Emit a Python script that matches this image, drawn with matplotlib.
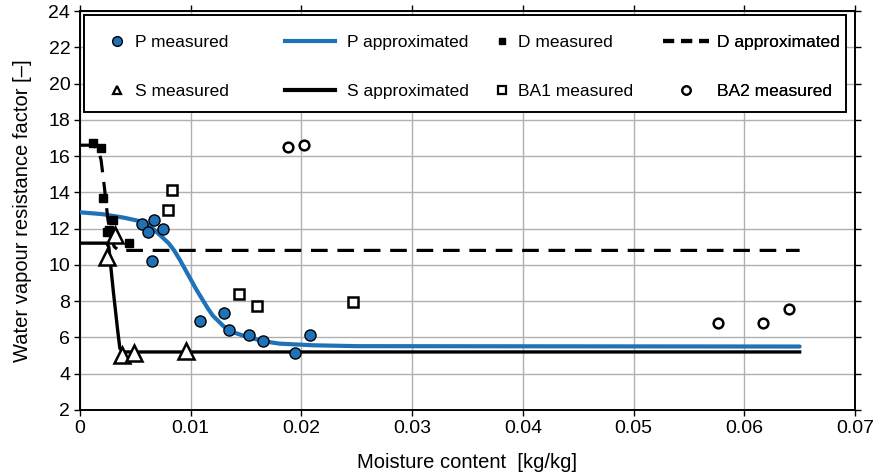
import numpy as np
import matplotlib
matplotlib.use("Agg")
import matplotlib.pyplot as plt
from matplotlib.lines import Line2D
from matplotlib.patches import Rectangle

plt.rcParams['font.family'] = ['Liberation Sans', 'DejaVu Sans']
plt.rcParams['lines.scale_dashes'] = False

BLUE = "#1f72b8"

# measured points [kg/kg], [-]
p_x = [0.00557, 0.00668, 0.00617, 0.00752, 0.00648, 0.01084, 0.01303, 0.01349, 0.01526, 0.01653, 0.01945, 0.02075]
p_y = [12.24, 12.48, 11.83, 11.97, 10.23, 6.93, 7.33, 6.41, 6.16, 5.82, 5.15, 6.16]

d_x = [0.0012, 0.0019, 0.0021, 0.0030, 0.0026, 0.0024, 0.0044]
d_y = [16.70, 16.45, 13.70, 12.50, 11.95, 11.80, 11.20]

s_x = [0.00241, 0.00316, 0.00377, 0.0049, 0.00957]
s_y = [10.46, 11.65, 5.04, 5.16, 5.26]

ba1_x = [0.00798, 0.00834, 0.0144, 0.0160, 0.0247]
ba1_y = [13.03, 14.13, 8.40, 7.74, 7.97]

ba2_x = [0.0188, 0.0202, 0.05765, 0.06166, 0.0640]
ba2_y = [16.50, 16.60, 6.78, 6.78, 7.59]

# approximation curves
pa_x = [0, 0.002, 0.004, 0.0055, 0.0065, 0.0073, 0.0080, 0.0085, 0.009, 0.0095, 0.010, 0.0105,
        0.011, 0.0115, 0.012, 0.0125, 0.013, 0.0135, 0.014, 0.015, 0.0165, 0.018, 0.021, 0.025, 0.065]
pa_y = [12.9, 12.8, 12.6, 12.4, 12.05, 11.6, 11.2, 10.8, 10.3, 9.75, 9.2, 8.65,
        8.15, 7.65, 7.2, 6.9, 6.6, 6.4, 6.25, 6.05, 5.8, 5.66, 5.57, 5.52, 5.5]

da_x = [0, 0.0012, 0.0016, 0.0019, 0.0022, 0.0025, 0.0028, 0.0031, 0.0035, 0.065]
da_y = [16.6, 16.6, 16.4, 15.8, 14.3, 12.6, 11.5, 11.0, 10.8, 10.8]

sa_x = [0, 0.0024, 0.0026, 0.0030, 0.0034, 0.0036, 0.0039, 0.065]
sa_y = [11.2, 11.2, 11.0, 8.6, 6.4, 5.4, 5.2, 5.2]

fig = plt.figure(figsize=(8.79, 4.75), dpi=100)
ax = fig.add_axes([80 / 879, 1 - 410 / 475, 775 / 879, 399 / 475])

ax.plot(pa_x, pa_y, color=BLUE, lw=3, zorder=3, solid_capstyle='round')
ax.plot(da_x, da_y, color='black', lw=2.3, dashes=(12, 7), zorder=3)
ax.plot(sa_x, sa_y, color='black', lw=2.4, zorder=3)

ax.plot(p_x, p_y, 'o', ms=8, mfc=BLUE, mec='black', mew=1, zorder=4)
ax.plot(d_x, d_y, 's', ms=6, mfc='black', mec='black', zorder=4)
ax.plot(s_x, s_y, '^', ms=12, mfc='white', mec='black', mew=1.8, zorder=4)
ax.plot(ba1_x, ba1_y, 's', ms=7, mfc='white', mec='black', mew=1.8, zorder=4)
ax.plot(ba2_x, ba2_y, 'o', ms=7, mfc='white', mec='black', mew=1.8, zorder=4)

ax.set_xlim(0, 0.07)
ax.set_ylim(2, 24)
ax.set_xticks(np.arange(0, 0.0701, 0.01))
ax.set_xticklabels(['0', '0.01', '0.02', '0.03', '0.04', '0.05', '0.06', '0.07'])
ax.set_yticks(range(2, 25, 2))
ax.grid(True, color='#b0b0b0', lw=1)
ax.set_axisbelow(True)
for s in ax.spines.values():
    s.set_linewidth(1.4)
ax.tick_params(direction='out', length=4, width=1, labelsize=14, pad=3,
               top=True, right=True)
ax.set_xlabel("Moisture content  [kg/kg]", fontsize=14.5, labelpad=12)
ax.set_ylabel("Water vapour resistance factor [\u2013]", fontsize=14.5, labelpad=12)

# legend frame
ax.add_patch(Rectangle((4 / 775, 298 / 399), 762 / 775, 97 / 399, transform=ax.transAxes,
                       facecolor='white', edgecolor='black', lw=1.4, zorder=5))

def h_marker(m, ms, fc, mew=1.0):
    return Line2D([], [], ls='none', marker=m, ms=ms, mfc=fc, mec='black', mew=mew)

# handles, labels, left edge of handle [px], handle length, text pad
cols = [
    ([h_marker('o', 7, BLUE), h_marker('^', 6, 'white', 1.6)], ["P measured", "S measured"], 109, 0.9, 0.6),
    ([Line2D([], [], color=BLUE, lw=3), Line2D([], [], color='black', lw=3)],
     ["P approximated", "S approximated"], 285, 2.9, 0.7),
    ([h_marker('s', 5, 'black'), h_marker('s', 6, 'white', 1.6)], ["D measured", "BA1 measured"], 494, 0.9, 0.5),
    ([Line2D([], [], color='black', lw=3, dashes=(8, 5)), h_marker('o', 6, 'white', 1.6)],
     ["D approximated", "BA2 measured"], 663, 2.65, 0.45),
]
for handles, labels, x0, hl, pad in cols:
    leg = ax.legend(handles, labels, loc='upper left', bbox_to_anchor=((x0 - 80) / 775, (410 - 35) / 399),
                    frameon=False, fontsize=12.5, handlelength=hl, handletextpad=pad,
                    borderpad=0, borderaxespad=0, labelspacing=1.95)
    leg.set_zorder(6)
    ax.add_artist(leg)

fig.savefig("out.png", dpi=100)
